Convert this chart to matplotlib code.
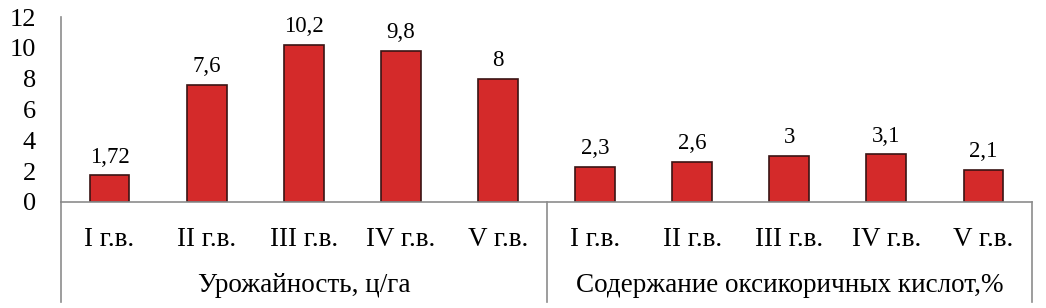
import matplotlib.pyplot as plt
import numpy as np

plt.rcParams['font.family'] = ['Liberation Serif', 'DejaVu Serif']

categories = ["I г.в.", "II г.в.", "III г.в.", "IV г.в.", "V г.в."]
groups = ["Урожайность, ц/га", "Содержание оксикоричных кислот,%"]
yield_vals = [1.72, 7.6, 10.2, 9.8, 8]
acid_vals = [2.3, 2.6, 3, 3.1, 2.1]
yield_labels = ["1,72", "7,6", "10,2", "9,8", "8"]
acid_labels = ["2,3", "2,6", "3", "3,1", "2,1"]

values = yield_vals + acid_vals
labels = yield_labels + acid_labels
ticks = categories + categories
x = np.arange(len(values))

fig = plt.figure(figsize=(10.46, 3.08), dpi=100)
ax = fig.add_axes([61 / 1046, 106 / 308, 971 / 1046, 185 / 308])

grey = "#8c8c8c"
ax.bar(x, values, width=0.41, color="#d42a2a", edgecolor="#3a1414", linewidth=1.2, zorder=2)
for xi, v, lab in zip(x, values, labels):
    ax.text(xi, v + 0.5, lab, ha="center", va="bottom", fontsize=16.5)

ax.set_xlim(-0.5, len(values) - 0.5)
ax.set_ylim(0, 12)
ax.set_yticks(range(0, 13, 2))
ax.tick_params(axis="y", length=0, labelsize=19, pad=18)
ax.set_xticks(x)
ax.set_xticklabels(ticks, fontsize=19.5)
ax.tick_params(axis="x", length=0, pad=18)

for s in ["top", "right"]:
    ax.spines[s].set_visible(False)
ax.spines["left"].set_color(grey)
ax.spines["bottom"].set_color(grey)
ax.spines["left"].set_linewidth(1.2)
ax.spines["bottom"].set_linewidth(1.2)

# group separators below the axis
trans = ax.get_xaxis_transform()
for xs in [-0.5, 4.5, 9.5]:
    ax.plot([xs, xs], [0, -0.54], transform=trans, color=grey, lw=1.2, clip_on=False)
for i, g in enumerate(groups):
    ax.text(2 + 5 * i, -0.45, g, transform=trans, ha="center", va="center", fontsize=19.5)

fig.savefig("out.png", dpi=100)
